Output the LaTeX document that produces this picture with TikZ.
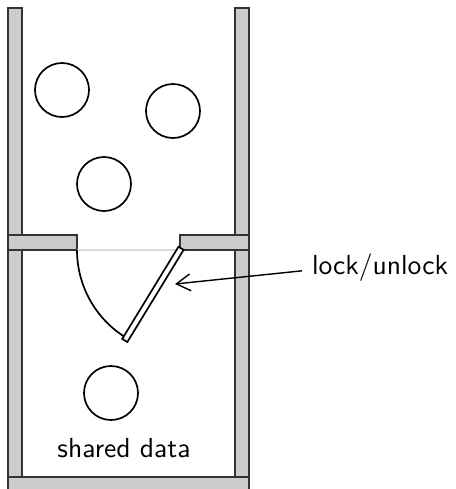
\documentclass[tikz,border=0pt]{standalone}
\usetikzlibrary{arrows.meta}

\begin{document}
\begin{tikzpicture}[x=0.0125cm,y=-0.0125cm,font=\sffamily\fontsize{9.8}{12}\selectfont,
  wall/.style={draw=black!80, fill=black!20, line width=0.6pt},
  datum/.style={draw, circle, line width=0.6pt, minimum size=0.675cm, inner sep=0pt}]
\useasboundingbox (0,0) rectangle (455,489);
% walls of the room
\draw[wall] (8,8) rectangle (22,235);
\draw[wall] (235,8) rectangle (249,235);
\draw[wall] (8,250) rectangle (22,477);
\draw[wall] (235,250) rectangle (249,477);
\draw[wall] (8,235) rectangle (77,250);
\draw[wall] (180,235) rectangle (249,250);
\draw[wall] (8,477) rectangle (249,492);
% the door
\draw[black!15] (77,250) -- (180,250);
\draw[line width=0.6pt] (77,250) arc[start angle=180, end angle=121.4, radius=103];
\begin{scope}[shift={(180,250)}, rotate=58.6]
\draw[line width=0.6pt, fill=white] (2,-3) rectangle (-106,3);
\end{scope}
\coordinate (latch) at (175,284);
% threads outside and the data inside
\node[datum] (t1) at (62,90) {};
\node[datum] (t2) at (173,111) {};
\node[datum] (t3) at (104,184) {};
\node[datum] (d) at (111,393) {};
\node (shared) at (124,448) {shared data};
\node (lock) at (380,268) {lock/unlock};
\draw[-{Straight Barb[length=5pt,width=6pt]}, line width=0.5pt] ([yshift=-1pt]lock.west) -- (latch);
\end{tikzpicture}
\end{document}
